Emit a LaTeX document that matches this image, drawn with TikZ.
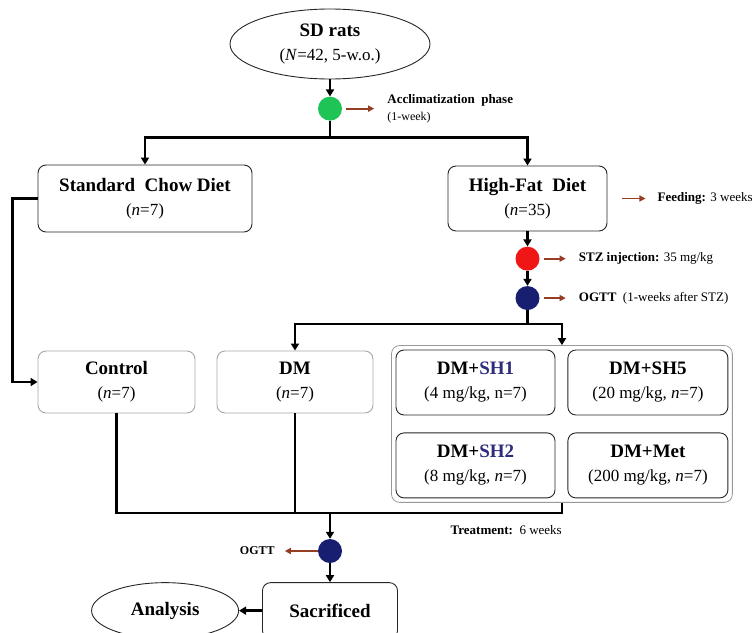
\documentclass[tikz,border=0pt]{standalone}
\usepackage{fontspec}
\setmainfont{Liberation Serif}
\usetikzlibrary{positioning,shapes.geometric,arrows.meta,fit}

\definecolor{accgreen}{RGB}{30,196,86}
\definecolor{stzred}{RGB}{240,22,22}
\definecolor{ogttnavy}{RGB}{24,30,112}
\definecolor{notebrown}{RGB}{150,62,36}
\definecolor{shblue}{RGB}{44,44,122}

\newcommand\smallline{\fontsize{17}{24}\selectfont}

\tikzset{
  box/.style={draw=black!85, line width=0.9pt, rounded corners=8pt, align=center, font=\fontsize{19}{24}\selectfont},
  pale box/.style={box, draw=black!35},
  frame/.style={draw=black!40, line width=0.8pt, rounded corners=8pt, inner sep=4pt},
  oval/.style={ellipse, draw=black!85, line width=0.9pt, align=center, inner sep=0pt, font=\fontsize{19}{24}\selectfont},
  dot/.style={circle, minimum size=24pt, inner sep=0pt},
  line/.style={line width=2.6pt},
  conn/.style={line, -{Triangle[length=7pt,width=8pt]}},
  note/.style={draw=notebrown, line width=1.8pt, -{Triangle[length=6pt,width=6pt]}, shorten <=4pt, shorten >=13pt},
  notetext/.style={align=left, inner sep=0pt, font=\fontsize{13}{17}\selectfont},
}

\begin{document}
\begin{tikzpicture}[x=1pt, y=-1pt]
  \useasboundingbox (0,0) rectangle (755,632);

  \node[oval, minimum width=200pt, minimum height=70pt] (sd) at (330,44) {\textbf{SD rats}\\{\smallline(\textit{N}=42, 5-w.o.)}};
  \node[dot, fill=accgreen, below=17pt of sd] (acc) {};
  \node[notetext, right=45pt of acc] (accnote) {\textbf{Acclimatization\ \ phase}\\{\fontsize{12}{17}\selectfont(1-week)}};

  \node[box, minimum width=214pt, minimum height=67pt] (scd) at (145,198.5) {\textbf{Standard\ \ Chow Diet}\\{\smallline(\textit{n}=7)}};
  \node[box, minimum width=159pt, minimum height=65pt] (hfd) at (527.5,198.5) {\textbf{High-Fat\ \ Diet}\\{\smallline(\textit{n}=35)}};
  \node[notetext, right=50pt of hfd] (feednote) {\textbf{Feeding:} 3 weeks};

  \node[dot, fill=stzred, below=15pt of hfd] (stz) {};
  \node[notetext, right=39pt of stz] (stznote) {\textbf{STZ injection:} 35 mg/kg};
  \node[dot, fill=ogttnavy, below=15pt of stz] (ogtta) {};
  \node[notetext, right=39pt of ogtta] (ogttanote) {\textbf{OGTT}\ \ (1-weeks after STZ)};

  \node[pale box, minimum width=157pt, minimum height=62pt] (ctrl) at (116.5,382) {\textbf{Control}\\{\smallline(\textit{n}=7)}};
  \node[pale box, minimum width=156pt, minimum height=62pt] (dm) at (295,382) {\textbf{DM}\\{\smallline(\textit{n}=7)}};

  \node[box, minimum width=159pt, minimum height=65pt] (sh1) at (475.5,382.5) {\textbf{DM+\textcolor{shblue}{SH1}}\\{\smallline(4 mg/kg, n=7)}};
  \node[box, minimum width=160pt, minimum height=65pt, right=12pt of sh1] (sh5) {\textbf{DM+SH5}\\{\smallline(20 mg/kg, \textit{n}=7)}};
  \node[box, minimum width=159pt, minimum height=65pt, below=17pt of sh1] (sh2) {\textbf{DM+\textcolor{shblue}{SH2}}\\{\smallline(8 mg/kg, \textit{n}=7)}};
  \node[box, minimum width=160pt, minimum height=65pt, right=12pt of sh2] (met) {\textbf{DM+Met}\\{\smallline(200 mg/kg, \textit{n}=7)}};
  \node[frame, fit=(sh1)(sh5)(sh2)(met)] (grp) {};
  \node[notetext, below left=23pt and 0pt of grp.south] (treatnote) {\textbf{Treatment:}\ \ 6 weeks};

  \node[dot, fill=ogttnavy] (ogttb) at (330,551) {};
  \node[notetext, font=\fontsize{12}{17}\selectfont, left=43pt of ogttb] (ogttbnote) {\textbf{OGTT}};
  \node[box, minimum width=135pt, minimum height=56pt, below=19pt of ogttb] (sac) {\textbf{Sacrificed}};
  \node[oval, minimum width=147pt, minimum height=56pt, left=23pt of sac] (ana) {\textbf{Analysis}};

  \draw[conn] (sd) -- (acc);
  \draw[line] (acc) -- ++(0,29) coordinate (split);
  \draw[conn] (split) -| (scd);
  \draw[conn] (split) -| (hfd);
  \draw[note] (acc) -- (accnote);
  \draw[note, shorten <=15pt, shorten >=12pt] (hfd) -- (feednote);

  \draw[conn] (scd.west) -- ++(-25,0) |- (ctrl);
  \draw[conn] (hfd) -- (stz);
  \draw[conn] (stz) -- (ogtta);
  \draw[note] (stz) -- (stznote);
  \draw[note] (ogtta) -- (ogttanote);
  \draw[line] (ogtta) -- ++(0,26) coordinate (fork);
  \draw[conn] (fork) -| (dm);
  \draw[conn] (fork) -| (grp);

  \path (ogttb) ++(0,-38) coordinate (join);
  \draw[line] (ctrl) |- (join);
  \draw[line] (dm) |- (join);
  \draw[line] (grp) |- (join);
  \draw[conn] (join) -- (ogttb);
  \draw[note, shorten <=0pt, shorten >=10pt] (ogttb) -- (ogttbnote);
  \draw[conn] (ogttb) -- (sac);
  \draw[conn] (sac) -- (ana);
\end{tikzpicture}
\end{document}
